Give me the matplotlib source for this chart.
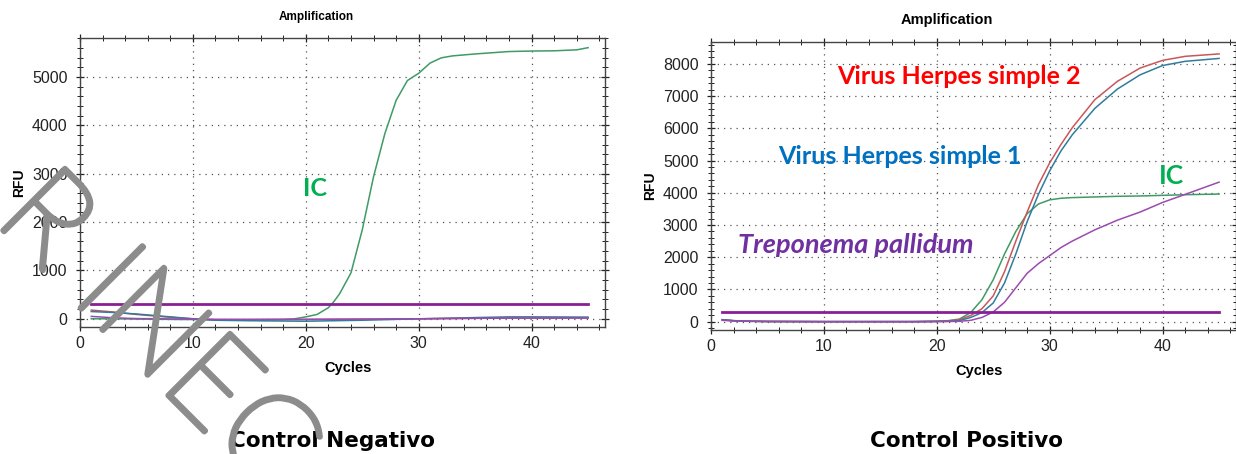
import matplotlib.pyplot as plt
import matplotlib.patheffects as pe
from matplotlib.ticker import MultipleLocator

# ---- Control negativo (left panel) ----
neg_cycles = [1, 3, 5, 7, 9, 10, 12, 15, 18, 19, 20, 21, 22, 22.5, 23, 24, 25, 26, 27, 28,
              29, 30, 31, 32, 33, 35, 38, 40, 42, 44, 45]
neg_ic = [0, 0, -5, -10, -15, -15, -20, -20, -15, 0, 40, 90, 230, 360, 520, 950, 1840, 2940,
          3830, 4520, 4930, 5080, 5290, 5400, 5440, 5480, 5530, 5540, 5545, 5565, 5610]

neg_low_cycles = [1, 3, 5, 7, 9, 10, 12, 15, 20, 25, 30, 35, 38, 40, 45]
neg_red = [180, 140, 90, 50, 15, 0, -20, -20, -15, -10, 0, 10, 15, 15, 20]
neg_teal = [150, 130, 100, 60, 20, 0, -30, -40, -50, -30, 0, 25, 40, 40, 35]
neg_purple = [50, 20, 5, 0, -5, -5, -10, -10, -10, -5, 0, 10, 15, 15, 15]
neg_threshold = 300

# ---- Control positivo (right panel) ----
pos_cycles = [1, 2, 3, 5, 10, 15, 18, 20, 21, 22, 23, 24, 25, 26, 27, 28, 29, 30, 31, 32,
              34, 36, 38, 40, 42, 45]
pos_hsv2 = [60, 30, 15, 5, 0, 0, 0, 10, 20, 60, 190, 400, 800, 1550, 2500, 3400, 4250,
            4930, 5500, 6020, 6890, 7460, 7870, 8110, 8235, 8310]
pos_hsv1 = [60, 30, 15, 5, 0, 0, 0, 5, 10, 30, 130, 280, 580, 1200, 2100, 3100, 3950,
            4680, 5300, 5800, 6620, 7220, 7660, 7950, 8080, 8170]
pos_ic = [60, 30, 15, 5, 0, 0, 0, 15, 30, 80, 280, 680, 1300, 2100, 2800, 3350, 3650,
          3780, 3830, 3850, 3870, 3890, 3900, 3920, 3940, 3960]
pos_tp = [40, 20, 10, 5, 0, 0, 0, 0, 5, 10, 40, 130, 300, 600, 1050, 1500, 1800, 2050,
          2300, 2500, 2850, 3150, 3400, 3700, 3950, 4330]
pos_threshold = 300

C_GREEN = "#3f9a66"
C_RED = "#c9575a"
C_BLUE = "#2f7c9e"
C_PURPLE = "#9b4ab0"
C_THRESH = "#8a1f95"
C_MARK = "#8c8c8c"

ANNOT = "Lato"
AXFONT = "Liberation Sans"

fig = plt.figure(figsize=(12.36, 4.54), dpi=100)
ax1 = fig.add_axes([0.0647, 0.2797, 0.4248, 0.6366])
ax2 = fig.add_axes([0.5752, 0.2731, 0.4248, 0.6344])


def style_axes(ax, title_size):
    ax.set_xlim(0, 46.5)
    ax.xaxis.set_major_locator(MultipleLocator(10))
    ax.xaxis.set_minor_locator(MultipleLocator(2))
    ax.yaxis.set_major_locator(MultipleLocator(1000))
    ax.yaxis.set_minor_locator(MultipleLocator(200))
    ax.grid(True, which="major", color="#555555", linestyle=(0, (1, 4)), linewidth=0.9)
    ax.tick_params(which="both", direction="inout", labelsize=11.5, colors="#222222",
                   top=True, right=True)
    ax.tick_params(which="major", length=6, width=0.9)
    ax.tick_params(which="minor", length=4, width=0.7)
    ax.tick_params(axis="y", pad=6)
    for lbl in ax.get_xticklabels() + ax.get_yticklabels():
        lbl.set_family(AXFONT)
    for s in ax.spines.values():
        s.set_color("#444444")
        s.set_linewidth(1.0)
    ax.set_title("Amplification", fontsize=title_size, fontweight="bold",
                 family=AXFONT, x=0.45, pad=13)
    ax.set_xlabel("Cycles", fontsize=10.5, fontweight="bold", family=AXFONT,
                  x=0.51, labelpad=7)
    ax.set_ylabel("RFU", fontsize=10, fontweight="bold", family=AXFONT, labelpad=4)


# left
ax1.plot(neg_cycles, neg_ic, color=C_GREEN, lw=1.1)
ax1.plot(neg_low_cycles, neg_red, color=C_RED, lw=1.1)
ax1.plot(neg_low_cycles, neg_teal, color=C_BLUE, lw=1.1)
ax1.plot(neg_low_cycles, neg_purple, color=C_PURPLE, lw=1.1)
ax1.plot([1, 45], [neg_threshold, neg_threshold], color=C_THRESH, lw=2.0)
ax1.set_ylim(-170, 5810)
style_axes(ax1, 8.5)
ax1.text(20.8, 2690, "IC", color="#00b050", fontsize=18, fontweight="bold",
         family=ANNOT, ha="center", va="center", zorder=5)

# right
ax2.plot(pos_cycles, pos_ic, color=C_GREEN, lw=1.1)
ax2.plot(pos_cycles, pos_hsv2, color=C_RED, lw=1.1)
ax2.plot(pos_cycles, pos_hsv1, color=C_BLUE, lw=1.1)
ax2.plot(pos_cycles, pos_tp, color=C_PURPLE, lw=1.1)
ax2.plot([1, 45], [pos_threshold, pos_threshold], color=C_THRESH, lw=2.0)
ax2.set_ylim(-260, 8680)
style_axes(ax2, 10.5)
ax2.text(22.0, 7600, "Virus Herpes simple 2", color="#ff0000", fontsize=18,
         fontweight="bold", family=ANNOT, ha="center", va="center", zorder=5)
ax2.text(16.7, 5120, "Virus Herpes simple 1", color="#0070c0", fontsize=18,
         fontweight="bold", family=ANNOT, ha="center", va="center", zorder=5)
ax2.text(40.8, 4530, "IC", color="#00b050", fontsize=19, fontweight="bold",
         family=ANNOT, ha="center", va="center", zorder=5)
ax2.text(12.8, 2390, "Treponema pallidum", color="#7030a0", fontsize=19.5,
         fontweight="bold", style="italic", family=ANNOT, ha="center", va="center",
         zorder=5)

fig.text(333 / 1236, 1 - 441 / 454, "Control Negativo", fontsize=15.5, fontweight="bold",
         family="DejaVu Sans", ha="center", va="center")
fig.text(966 / 1236, 1 - 441 / 454, "Control Positivo", fontsize=15.5, fontweight="bold",
         family="DejaVu Sans", ha="center", va="center")

# watermark (runs off the image edge, as in the source)
fig.text(155 / 1236, 1 - 335 / 454, "R INEC", fontsize=90, fontweight="light",
         family="Lato", color=C_MARK, rotation=-45,
         rotation_mode="anchor", ha="center", va="center", zorder=10,
         path_effects=[pe.withStroke(linewidth=4, foreground=C_MARK)])

fig.savefig("out.png", dpi=100)
